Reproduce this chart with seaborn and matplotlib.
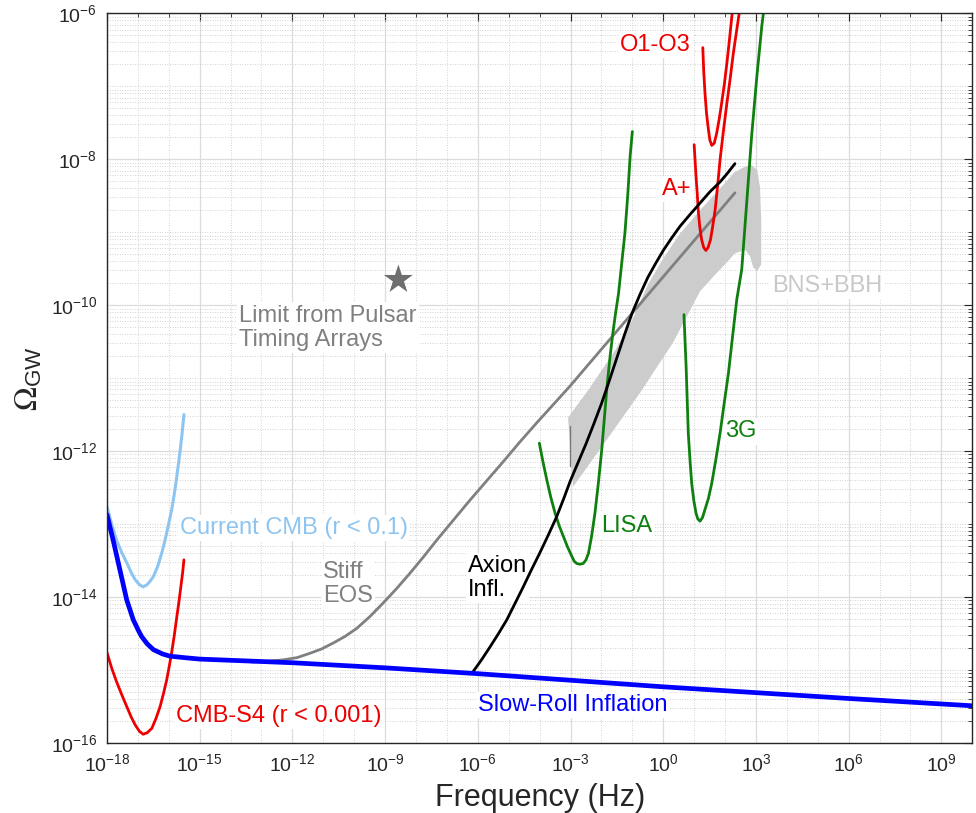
import numpy as np
import pandas as pd
import matplotlib
matplotlib.use('Agg')
import matplotlib.pyplot as plt
import matplotlib.ticker as mticker
import seaborn as sns

# values, as log10(f / Hz) and log10(Omega_GW)
slowroll_logf = [-18.0, -17.8, -17.58, -17.36, -17.15, -16.98, -16.88, -16.7, -16.5, -16.2, -15.96, -15.5, -15.0,
                 -12.0, -9.0, -6.0, -3.0, 0.0, 3.0, 6.0, 10.0]
slowroll_logom = [-12.87, -13.22, -13.63, -14.04, -14.31, -14.46, -14.54, -14.64, -14.72, -14.78, -14.81, -14.83, -14.85,
                  -14.90, -14.97, -15.05, -15.14, -15.23, -15.31, -15.39, -15.49]

cmb_now_logf = [-18.0, -17.85, -17.69, -17.52, -17.36, -17.22, -17.09, -16.95, -16.83, -16.7, -16.6, -16.5,
                -16.36, -16.23, -16.12, -16.02, -15.9, -15.8, -15.72, -15.64, -15.57, -15.51]
cmb_now_logom = [-12.76, -13.0, -13.22, -13.39, -13.53, -13.66, -13.76, -13.83, -13.86, -13.83, -13.78, -13.72,
                 -13.58, -13.40, -13.22, -13.03, -12.79, -12.53, -12.28, -12.02, -11.76, -11.50]

cmbs4_logf = [-18.0, -17.85, -17.69, -17.52, -17.36, -17.22, -17.09, -16.95, -16.83, -16.7, -16.55, -16.42,
              -16.28, -16.17, -16.07, -15.99, -15.91, -15.82, -15.74, -15.67, -15.61, -15.55, -15.51]
cmbs4_logom = [-14.76, -14.97, -15.16, -15.34, -15.50, -15.64, -15.75, -15.84, -15.88, -15.86, -15.80, -15.67,
               -15.50, -15.32, -15.14, -14.96, -14.77, -14.52, -14.27, -14.06, -13.86, -13.66, -13.49]

stiff_logf = [-13.3, -12.8, -12.29, -11.85, -11.43, -11.05, -10.68, -10.3, -9.92, -9.5, -9.06, -8.62, -8.19,
              -7.76, -7.33, -6.8, -6.25, -5.7, -5.17, -4.63, -4.09, -3.02, 0.0, 2.32]
stiff_logom = [-14.89, -14.88, -14.86, -14.83, -14.77, -14.71, -14.63, -14.54, -14.43, -14.27, -14.08, -13.88,
               -13.67, -13.45, -13.22, -12.95, -12.67, -12.40, -12.14, -11.87, -11.61, -11.11, -9.61, -8.46]

axion_logf = [-6.15, -5.88, -5.6, -5.33, -5.06, -4.8, -4.53, -4.27, -4.0, -3.72, -3.45, -3.22, -3.0, -2.75,
              -2.5, -2.25, -2.0, -1.75, -1.5, -1.25, -1.0, -0.75, -0.5, -0.25, 0.0, 0.27, 0.54, 0.86,
              1.19, 1.5, 1.84, 2.08, 2.32]
axion_logom = [-15.02, -14.86, -14.68, -14.50, -14.31, -14.09, -13.86, -13.63, -13.40, -13.15, -12.90, -12.65,
               -12.40, -12.15, -11.90, -11.63, -11.35, -11.04, -10.72, -10.40, -10.10, -9.85, -9.62, -9.43,
               -9.25, -9.08, -8.92, -8.76, -8.60, -8.45, -8.31, -8.19, -8.06]

lisa_logf = [-4.01, -3.89, -3.77, -3.64, -3.50, -3.37, -3.23, -3.1, -2.96, -2.88, -2.80, -2.70, -2.59,
             -2.5, -2.42, -2.32, -2.21, -2.1, -1.99, -1.9, -1.81, -1.72, -1.63, -1.54, -1.45, -1.35,
             -1.24, -1.15, -1.07, -1.0]
lisa_logom = [-11.89, -12.15, -12.39, -12.63, -12.85, -13.02, -13.17, -13.31, -13.44, -13.51, -13.54, -13.55,
              -13.54, -13.49, -13.40, -13.17, -12.85, -12.44, -11.98, -11.52, -11.07, -10.70, -10.38, -10.10,
              -9.85, -9.45, -9.01, -8.50, -7.95, -7.62]

g3_logf = [0.67, 0.74, 0.81, 0.87, 0.92, 0.99, 1.06, 1.12, 1.19, 1.27, 1.35, 1.46, 1.57, 1.7, 1.84, 1.97,
           2.11, 2.24, 2.38, 2.54, 2.70, 2.86, 3.03, 3.19, 3.3]
g3_logom = [-10.13, -10.84, -11.75, -12.15, -12.44, -12.68, -12.85, -12.93, -12.96, -12.91, -12.80, -12.65,
            -12.44, -12.12, -11.75, -11.35, -10.93, -10.44, -9.92, -9.51, -8.60, -7.68, -6.86, -6.17, -5.8]

o1o3_logf = [1.28, 1.31, 1.35, 1.4, 1.46, 1.51, 1.57, 1.65, 1.73, 1.81, 1.89, 1.98, 2.06, 2.14, 2.22, 2.26]
o1o3_logom = [-6.47, -6.80, -7.09, -7.37, -7.59, -7.74, -7.81, -7.78, -7.64, -7.45, -7.23, -6.96, -6.68,
              -6.37, -6.04, -5.9]

aplus_logf = [1.0, 1.03, 1.06, 1.1, 1.13, 1.18, 1.24, 1.31, 1.38, 1.45, 1.53, 1.6, 1.68, 1.76, 1.84, 1.95,
              2.06, 2.17, 2.27, 2.37, 2.46, 2.5]
aplus_logom = [-7.80, -8.02, -8.23, -8.47, -8.69, -8.92, -9.10, -9.21, -9.25, -9.21, -9.10, -8.92, -8.69,
               -8.36, -8.0, -7.60, -7.23, -6.88, -6.54, -6.25, -5.99, -5.9]

bns_upper_logf = [-3.08, -2.37, -1.56, -1.0, -0.5, 0.0, 0.54, 1.19, 1.84, 2.3, 2.65, 2.87, 3.04, 3.13, 3.17, 3.17, 3.04]
bns_upper_logom = [-11.54, -11.13, -10.62, -10.20, -9.72, -9.36, -9.02, -8.70, -8.40, -8.18, -8.10, -8.08,
                   -8.15, -8.38, -8.83, -9.44, -9.53]
bns_lower_logf = [2.91, 2.81, 2.65, 2.32, 2.0, 1.68, 1.19, 0.32, -0.75, -1.82, -2.92]
bns_lower_logom = [-9.48, -9.33, -9.24, -9.29, -9.44, -9.58, -9.81, -10.51, -11.20, -11.84, -12.49]

pta_logf = [-8.57]
pta_logom = [-9.65]

sns.set_theme(style='white')
plt.rcParams['font.family'] = ['Liberation Sans', 'DejaVu Sans']
plt.rcParams['mathtext.fontset'] = 'stix'

fig = plt.figure(figsize=(9.76, 8.13), dpi=100)
ax = fig.add_axes([0.1096, 0.0861, 0.8866, 0.8975])

# BNS+BBH band
band_f = 10.0 ** np.array(bns_upper_logf + bns_lower_logf)
band_om = 10.0 ** np.array(bns_upper_logom + bns_lower_logom)
ax.fill(band_f, band_om, color='#cccccc', lw=0, zorder=1.8)
ax.plot([10 ** -3.02, 10 ** -3.02], [10 ** -11.66, 10 ** -12.21], color='#777777', lw=1, zorder=1.9)

curves = [
    ('Stiff EOS', stiff_logf, stiff_logom, '#808080', 2.0, 2.0),
    ('Current CMB', cmb_now_logf, cmb_now_logom, '#8ec5f0', 2.2, 2.1),
    ('CMB-S4', cmbs4_logf, cmbs4_logom, '#ee0000', 2.0, 2.1),
    ('LISA', lisa_logf, lisa_logom, '#0f800f', 2.0, 2.2),
    ('3G', g3_logf, g3_logom, '#0f800f', 2.0, 2.2),
    ('O1-O3', o1o3_logf, o1o3_logom, '#ee0000', 2.0, 2.3),
    ('A+', aplus_logf, aplus_logom, '#ee0000', 2.0, 2.3),
    ('Axion', axion_logf, axion_logom, 'black', 2.0, 2.4),
    ('Slow-Roll', slowroll_logf, slowroll_logom, '#0000ff', 3.4, 2.5),
]
for name, lf, lo, col, lw, z in curves:
    df = pd.DataFrame({'f': 10.0 ** np.array(lf), 'om': 10.0 ** np.array(lo)})
    sns.lineplot(data=df, x='f', y='om', ax=ax, color=col, lw=lw, sort=False,
                 estimator=None, zorder=z, solid_joinstyle='round')

sns.scatterplot(x=10.0 ** np.array(pta_logf), y=10.0 ** np.array(pta_logom), ax=ax,
                marker='*', s=480, color='#6e6e6e', edgecolor='none', zorder=3)

ax.set_xscale('log')
ax.set_yscale('log')
ax.set_xlim(1e-18, 1e10)
ax.set_ylim(1e-16, 1e-6)

ax.xaxis.set_major_locator(mticker.FixedLocator(10.0 ** np.arange(-18, 10, 3)))
ax.xaxis.set_minor_locator(mticker.LogLocator(base=10, subs=(1.0,), numticks=60))
ax.yaxis.set_major_locator(mticker.FixedLocator(10.0 ** np.arange(-16, -5, 2)))
ax.yaxis.set_minor_locator(mticker.LogLocator(base=10, subs=np.arange(1, 10), numticks=100))
ax.xaxis.set_major_formatter(mticker.LogFormatterSciNotation())
ax.yaxis.set_major_formatter(mticker.LogFormatterSciNotation())
ax.xaxis.set_minor_formatter(mticker.NullFormatter())
ax.yaxis.set_minor_formatter(mticker.NullFormatter())

ax.set_axisbelow(True)
ax.grid(which='major', color='#dcdcdc', lw=0.9)
ax.grid(which='minor', color='#c4c4c4', lw=0.6, linestyle=(0, (1, 2)))
ax.tick_params(which='both', direction='in', top=True, right=True, colors='#262626')
ax.tick_params(which='major', length=6, width=0.8, labelsize=14, pad=7)
ax.tick_params(which='minor', length=3, width=0.6)
for sp in ax.spines.values():
    sp.set_color('#262626')
    sp.set_linewidth(1.0)

ax.set_xlabel('Frequency (Hz)', fontsize=22, color='#262626', labelpad=6)
ax.set_ylabel(r'$\Omega_{\mathregular{GW}}$', fontsize=23, color='#262626', labelpad=4)

box = dict(facecolor='white', edgecolor='none', pad=1.5)
labels = [
    ('O1-O3', -1.40, -6.43, '#ee0000'),
    ('A+', -0.04, -8.41, '#ee0000'),
    ('BNS+BBH', 3.52, -9.74, '#c8c8c8'),
    ('3G', 2.0, -11.73, '#0f800f'),
    ('LISA', -2.01, -13.02, '#0f800f'),
    ('Axion\nInfl.', -6.32, -13.74, 'black'),
    ('Stiff\nEOS', -11.01, -13.82, '#808080'),
    ('Current CMB (r < 0.1)', -15.64, -13.05, '#8ec5f0'),
    ('CMB-S4 (r < 0.001)', -15.77, -15.63, '#ee0000'),
    ('Slow-Roll Inflation', -6.0, -15.48, '#0000ff'),
    ('Limit from Pulsar\nTiming Arrays', -13.73, -10.31, '#808080'),
]
for txt, lf, lo, col in labels:
    ax.text(10.0 ** lf, 10.0 ** lo, txt, color=col, fontsize=17, ha='left', va='center',
            bbox=box, zorder=1.5, linespacing=1.15)

fig.savefig('out.png', dpi=100)
